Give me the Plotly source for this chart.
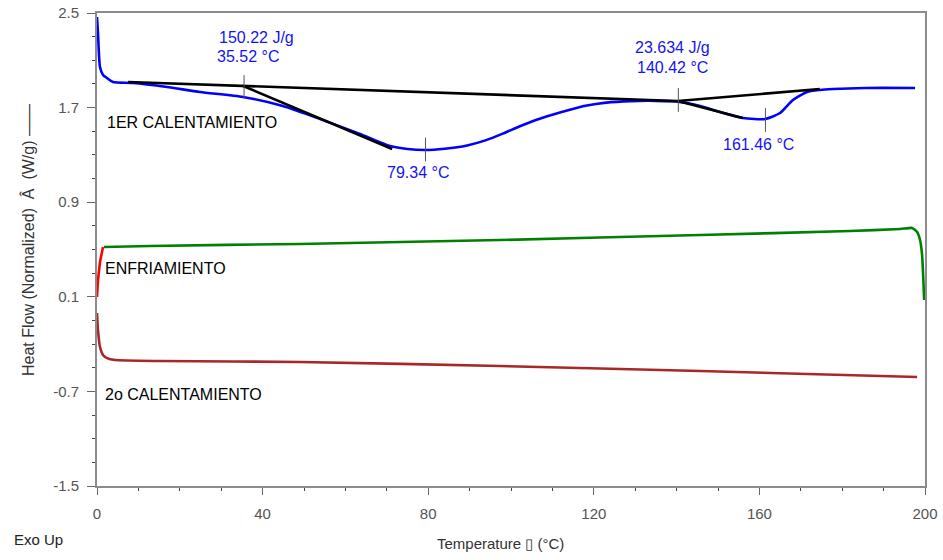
import plotly.graph_objects as go

# ---------------- data ----------------
# 1st heating (blue)
T_heat1 = [0, 0.24, 0.72, 1.45, 2.42, 3.86, 8.7, 16.9, 24.9, 35.3, 44.9, 53.9, 63.5,
           70.8, 75.0, 79.2, 84.0, 89.4, 94.0, 98.0, 102.0, 106.0, 110.0, 114.0, 118.0,
           123.0, 129.0, 135.0, 140.3, 145.7, 150.5, 156.0, 161.4, 165.0, 168.1,
           171.5, 174.6, 177.8, 185.5, 197.6]
HF_heat1 = [2.466, 2.33, 2.043, 1.976, 1.95, 1.917, 1.908, 1.874, 1.832, 1.790, 1.714,
            1.604, 1.477, 1.375, 1.350, 1.341, 1.352, 1.380, 1.425, 1.480, 1.540,
            1.595, 1.640, 1.680, 1.715, 1.742, 1.755, 1.757, 1.750, 1.714, 1.663,
            1.612, 1.604, 1.654, 1.764, 1.832, 1.849, 1.857, 1.866, 1.866]

# cooling (green)
T_cool = [1.69, 12.8, 49.0, 97.3, 145.7, 181.9, 194.0, 196.9, 198.1, 198.8, 199.3, 199.8]
HF_cool = [0.521, 0.530, 0.547, 0.580, 0.623, 0.656, 0.673, 0.682, 0.648, 0.580, 0.453, 0.073]

# end of cooling (red)
T_red = [0, 0.24, 0.72, 1.45]
HF_red = [0.098, 0.242, 0.394, 0.521]

# 2nd heating (brown)
T_heat2 = [0, 0.24, 0.72, 1.45, 2.42, 4.35, 15.2, 49.0, 97.3, 145.7, 198.1]
HF_heat2 = [-0.037, -0.181, -0.325, -0.392, -0.418, -0.434, -0.443, -0.451, -0.485,
            -0.528, -0.578]

# integration baselines and onset tangents (black)
T_base1 = [7.5, 140.3]
HF_base1 = [1.917, 1.756]
T_base2 = [140.3, 174.6]
HF_base2 = [1.756, 1.857]
T_tan1 = [35.3, 71.3]
HF_tan1 = [1.883, 1.350]
T_tan2 = [140.3, 156.0]
HF_tan2 = [1.756, 1.612]

# event markers
event_T = [35.52, 79.34, 140.42, 161.46]
event_HF = [1.875, 1.346, 1.765, 1.595]

y_tickvals = [2.5, 1.7, 0.9, 0.1, -0.7, -1.5]
y_ticktext = ["2.5", "1.7", "0.9", "0.1", "-0.7", "-1.5"]
x_tickvals = [0, 40, 80, 120, 160, 200]

FONT = "Liberation Sans, Arial, sans-serif"
BLUE_TXT = "#1414f0"

fig = go.Figure()

fig.add_trace(go.Scatter(x=T_heat1, y=HF_heat1, mode="lines",
                         line=dict(color="#0000ff", width=2.6, shape="spline", smoothing=0.6)))
fig.add_trace(go.Scatter(x=T_cool, y=HF_cool, mode="lines",
                         line=dict(color="#008000", width=2.6, shape="spline", smoothing=0.5)))
fig.add_trace(go.Scatter(x=T_red, y=HF_red, mode="lines",
                         line=dict(color="#ff0000", width=2.6)))
fig.add_trace(go.Scatter(x=T_heat2, y=HF_heat2, mode="lines",
                         line=dict(color="#a82828", width=2.6, shape="spline", smoothing=0.5)))
for xs, ys in [(T_base1, HF_base1), (T_base2, HF_base2), (T_tan1, HF_tan1), (T_tan2, HF_tan2)]:
    fig.add_trace(go.Scatter(x=xs, y=ys, mode="lines", line=dict(color="black", width=2.6)))
fig.add_trace(go.Scatter(x=event_T, y=event_HF, mode="markers",
                         marker=dict(symbol="line-ns-open", size=17, color="#555555",
                                     line=dict(color="#555555", width=1))))

def ann(x, y, text, color="black", size=16):
    fig.add_annotation(x=x, y=y, xref="x", yref="y", text=text, showarrow=False,
                       xanchor="left", yanchor="middle",
                       font=dict(family=FONT, size=size, color=color))

ann(29.0, 2.297, "150.22 J/g", BLUE_TXT)
ann(28.5, 2.136, "35.52 °C", BLUE_TXT)
ann(69.6, 1.155, "79.34 °C", BLUE_TXT)
ann(129.5, 2.212, "23.634 J/g", BLUE_TXT)
ann(130.0, 2.043, "140.42 °C", BLUE_TXT)
ann(150.7, 1.392, "161.46 °C", BLUE_TXT)
ann(1.9, 1.578, "1ER CALENTAMIENTO")
ann(1.4, 0.343, "ENFRIAMIENTO")
ann(1.4, -0.73, "2o CALENTAMIENTO")

# axis titles and corner label
fig.add_annotation(x=0.487, y=-0.1226, xref="paper", yref="paper", showarrow=False,
                   text="Temperature \u25af (°C)", xanchor="center", yanchor="middle",
                   font=dict(family=FONT, size=15, color="#333333"))
fig.add_annotation(x=-0.0833, y=0.52, xref="paper", yref="paper", showarrow=False,
                   text="Heat Flow (Normalized)\u00a0\u00a0Â\u00a0\u00a0(W/g)\u00a0——",
                   textangle=-90, xanchor="center", yanchor="middle",
                   font=dict(family=FONT, size=16, color="#333333"))
fig.add_annotation(x=-0.1027, y=-0.114, xref="paper", yref="paper", showarrow=False,
                   text="Exo Up", xanchor="left", yanchor="middle",
                   font=dict(family=FONT, size=15, color="#222222"))

axis_common = dict(showgrid=False, zeroline=False, showline=True, linecolor="#8c8c8c",
                   linewidth=2, mirror=True, ticks="outside", tickcolor="#666666",
                   tickwidth=1, automargin=False,
                   tickfont=dict(family=FONT, size=15, color="#555555"))

fig.update_xaxes(range=[0, 200], tickmode="array", tickvals=x_tickvals,
                 ticklen=7, ticklabelstandoff=6,
                 minor=dict(tickmode="linear", tick0=0, dtick=10, ticklen=3,
                            tickcolor="#444444", ticks="outside"),
                 **axis_common)
fig.update_yaxes(range=[-1.5, 2.5], tickmode="array", tickvals=y_tickvals,
                 ticktext=y_ticktext, ticklen=8, ticklabelstandoff=5,
                 minor=dict(tickmode="linear", tick0=-1.5, dtick=0.2, ticklen=3,
                            tickcolor="#444444", ticks="outside"),
                 **axis_common)

fig.update_layout(width=943, height=560, showlegend=False,
                  plot_bgcolor="white", paper_bgcolor="white",
                  margin=dict(l=97, r=18, t=13, b=74, autoexpand=False),
                  font=dict(family=FONT))

fig.write_html("out.html")
